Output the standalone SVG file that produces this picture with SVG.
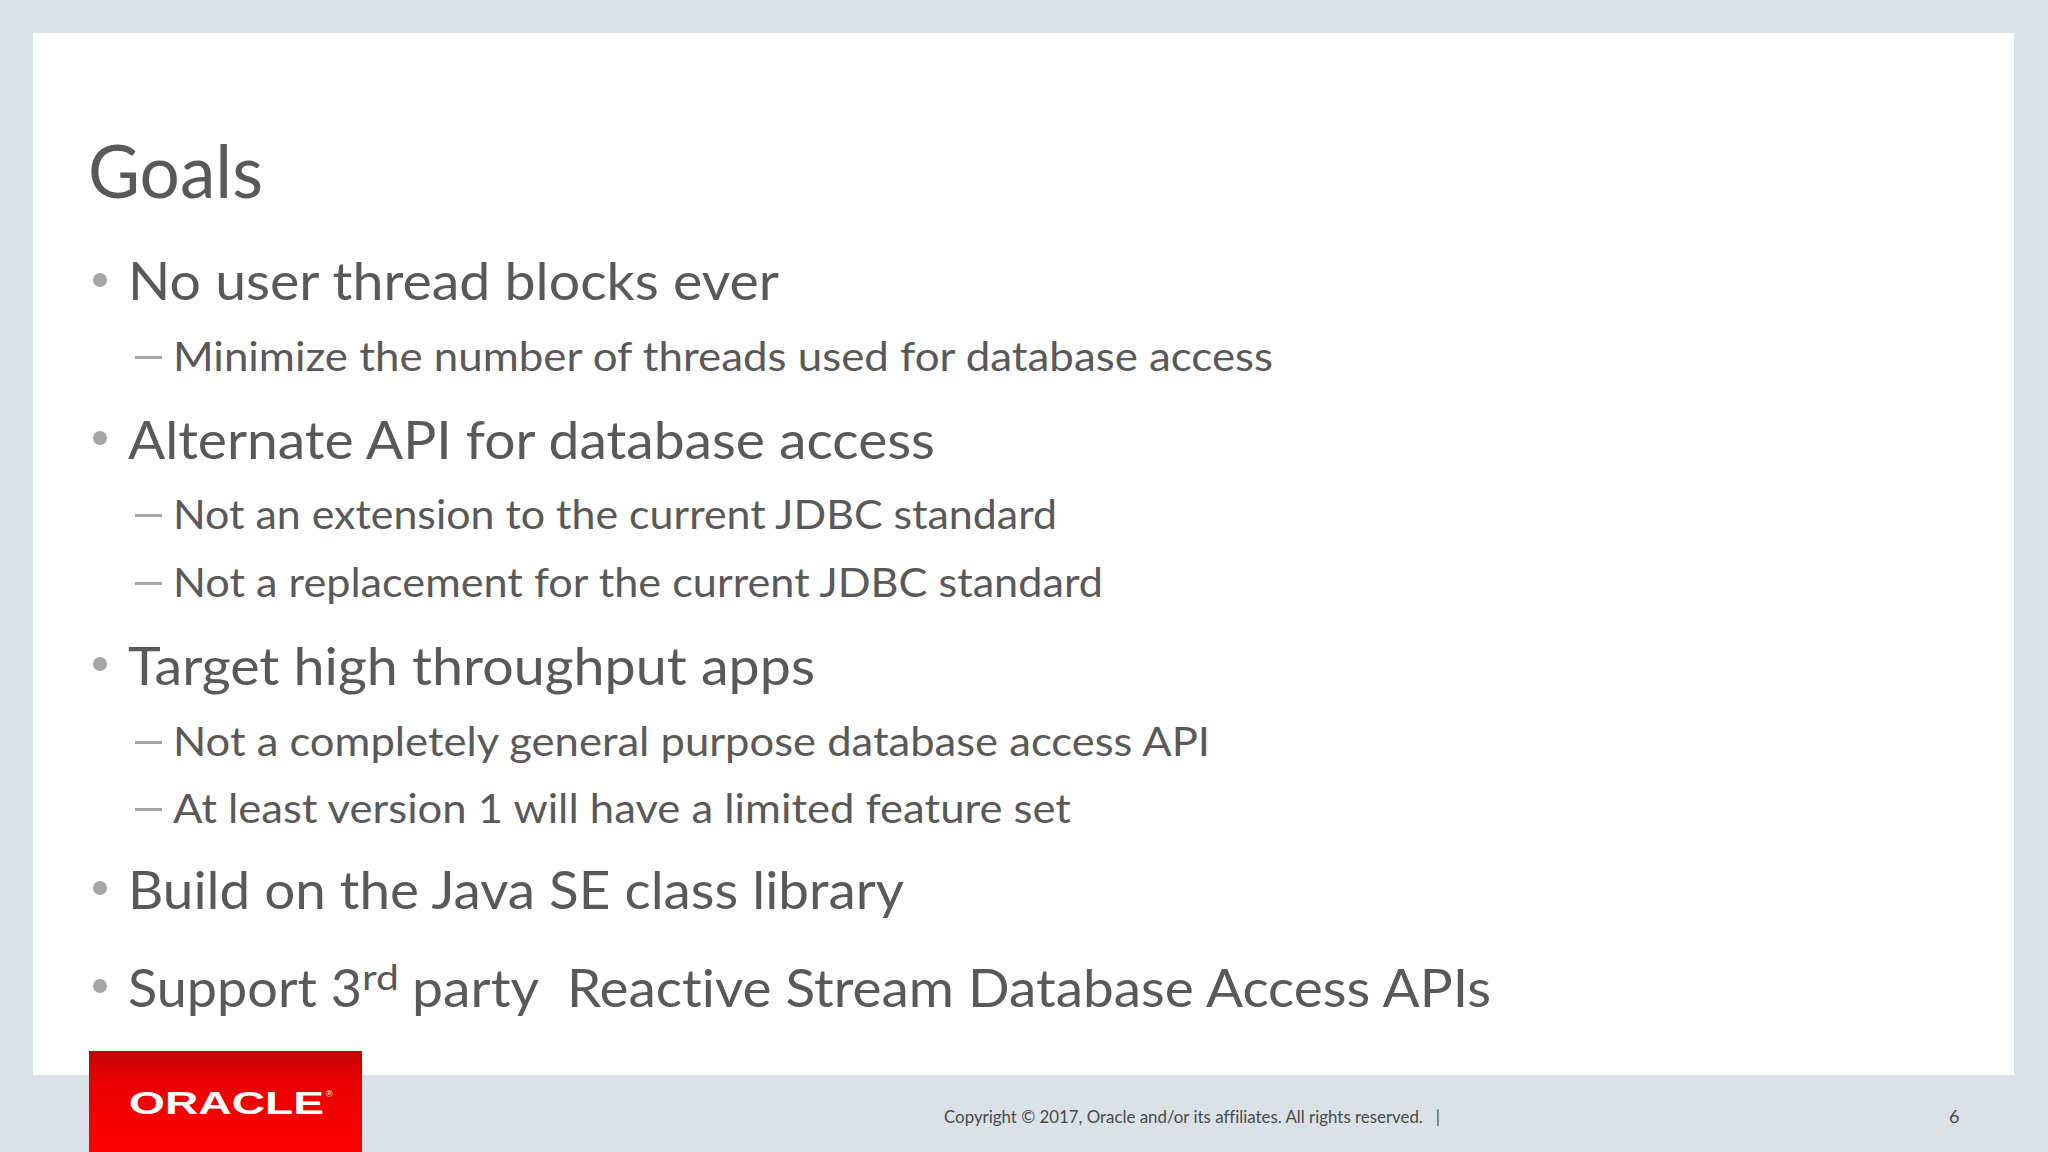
<svg xmlns="http://www.w3.org/2000/svg" width="2048" height="1152" viewBox="0 0 2048 1152">
  <defs>
    <linearGradient id="redGrad" x1="0" y1="0" x2="0" y2="1">
      <stop offset="0" stop-color="#c60303"/>
      <stop offset="0.35" stop-color="#ea0000"/>
      <stop offset="1" stop-color="#ff0000"/>
    </linearGradient>
    <style>
      text { font-variant-ligatures: none; }
      .t { font-family: Lato, "Open Sans", "Liberation Sans", sans-serif; fill: #595959; }
      .title { font-size: 74px; }
      .l1 { font-size: 52px; }
      .l2 { font-size: 41px; }
      .sup { font-size: 35px; }
      .foot { font-family: Lato, "Liberation Sans", sans-serif; font-size: 18px; fill: #4a4a4a; }
      .dot { fill: #a6a6a6; }
      .dash { fill: #a6a6a6; }
    </style>
  </defs>

  <rect id="background" x="0" y="0" width="2048" height="1152" fill="#dae1e7"/>
  <rect id="slide" x="33" y="33" width="1981" height="1042" fill="#ffffff"/>

  <g id="title">
    <text class="t title" x="88" y="198" textLength="175" lengthAdjust="spacingAndGlyphs">Goals</text>
  </g>

  <g id="bullet1">
    <circle class="dot" cx="100" cy="280" r="7"/>
    <text class="t l1" x="128" y="300" textLength="651" lengthAdjust="spacingAndGlyphs">No user thread blocks ever</text>
  </g>
  <g id="sub1">
    <rect class="dash" x="135" y="356" width="27" height="3"/>
    <text class="t l2" x="173" y="371" textLength="1100" lengthAdjust="spacingAndGlyphs">Minimize the number of threads used for database access</text>
  </g>

  <g id="bullet2">
    <circle class="dot" cx="100" cy="438" r="7"/>
    <text class="t l1" x="128" y="459" textLength="807" lengthAdjust="spacingAndGlyphs">Alternate API for database access</text>
  </g>
  <g id="sub2">
    <rect class="dash" x="135" y="514" width="27" height="3"/>
    <text class="t l2" x="173" y="529" textLength="884" lengthAdjust="spacingAndGlyphs">Not an extension to the current JDBC standard</text>
  </g>
  <g id="sub3">
    <rect class="dash" x="135" y="582" width="27" height="3"/>
    <text class="t l2" x="173" y="597" textLength="930" lengthAdjust="spacingAndGlyphs">Not a replacement for the current JDBC standard</text>
  </g>

  <g id="bullet3">
    <circle class="dot" cx="100" cy="664" r="7"/>
    <text class="t l1" x="128" y="685" textLength="687" lengthAdjust="spacingAndGlyphs">Target high throughput apps</text>
  </g>
  <g id="sub4">
    <rect class="dash" x="135" y="741" width="27" height="3"/>
    <text class="t l2" x="173" y="756" textLength="1037" lengthAdjust="spacingAndGlyphs">Not a completely general purpose database access API</text>
  </g>
  <g id="sub5">
    <rect class="dash" x="135" y="808" width="27" height="3"/>
    <text class="t l2" x="173" y="823" textLength="898" lengthAdjust="spacingAndGlyphs">At least version 1 will have a limited feature set</text>
  </g>

  <g id="bullet4">
    <circle class="dot" cx="100" cy="888" r="7"/>
    <text class="t l1" x="128" y="909" textLength="776" lengthAdjust="spacingAndGlyphs">Build on the Java SE class library</text>
  </g>

  <g id="bullet5">
    <circle class="dot" cx="100" cy="986" r="7"/>
    <text class="t l1" x="128" y="1007" textLength="234" lengthAdjust="spacingAndGlyphs">Support 3</text>
    <text class="t sup" x="362" y="990" textLength="37" lengthAdjust="spacingAndGlyphs">rd</text>
    <text class="t l1" x="412" y="1007" textLength="127" lengthAdjust="spacingAndGlyphs">party</text>
    <text class="t l1" x="567" y="1007" textLength="924" lengthAdjust="spacingAndGlyphs">Reactive Stream Database Access APIs</text>
  </g>

  <g id="oracle-logo">
    <rect x="89" y="1051" width="273" height="101" fill="url(#redGrad)"/>
    <text x="129" y="1114" font-family="'Liberation Sans', Arial, sans-serif" font-size="31" font-weight="bold" fill="#ffffff" textLength="195" lengthAdjust="spacingAndGlyphs">ORACLE</text>
    <text x="326" y="1097" font-family="'Liberation Sans', Arial, sans-serif" font-size="9" fill="#ffffff">®</text>
  </g>

  <g id="footer">
    <text class="foot" x="944" y="1123" xml:space="preserve" textLength="496" lengthAdjust="spacingAndGlyphs">Copyright © 2017, Oracle and/or its affiliates. All rights reserved.   |</text>
    <text class="foot" x="1949" y="1123">6</text>
  </g>
</svg>
